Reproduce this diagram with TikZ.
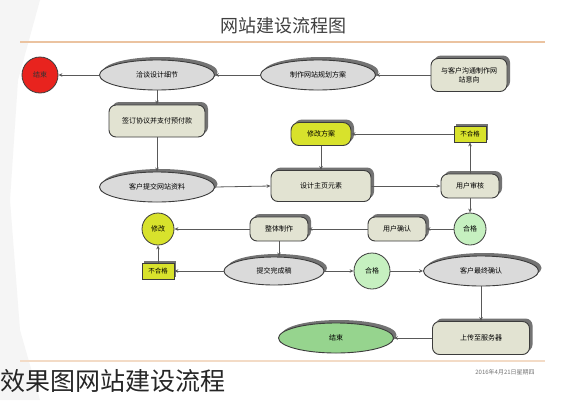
\documentclass[tikz,border=0pt]{standalone}
\usepackage{fontspec}
\setmainfont{Noto Sans CJK SC}
\usetikzlibrary{shapes.geometric,shadows,arrows.meta}
\definecolor{ellfill}{HTML}{DADADA}
\definecolor{boxfill}{HTML}{E2E3D2}
\definecolor{yel}{HTML}{D8E22C}
\definecolor{grn}{HTML}{C6F0C0}
\definecolor{grnell}{HTML}{96D48E}
\definecolor{redc}{HTML}{E8231E}
\definecolor{rule}{HTML}{EBC3A0}
\definecolor{edge}{HTML}{3C3C3C}
\tikzset{
  shd/.style={drop shadow={shadow xshift=3pt,shadow yshift=3pt,fill=black!55,opacity=1}},
  ell/.style={ellipse,draw=edge,line width=0.9pt,fill=ellfill,minimum width=#1,minimum height=30pt,inner sep=0pt,shd,font=\fontsize{7}{8}\selectfont},
  ell/.default=115pt,
  rbox/.style={rounded corners=7pt,draw=edge,line width=0.9pt,fill=boxfill,inner sep=0pt,shd,font=\fontsize{7}{9}\selectfont,align=center},
  ybox/.style={draw=edge,line width=0.7pt,fill=yel,minimum width=32pt,minimum height=16pt,inner sep=0pt,drop shadow={shadow xshift=2pt,shadow yshift=2pt,fill=black!55,opacity=1},font=\fontsize{6.5}{8}\selectfont},
  circ/.style={circle,draw=edge,line width=0.8pt,minimum size=#1,inner sep=0pt,font=\fontsize{7}{8}\selectfont},
  conn/.style={draw=black!65,line width=0.8pt,-{Stealth[length=4pt,width=3.5pt]}}
}
\begin{document}
\begin{tikzpicture}[x=1pt,y=-1pt]
\useasboundingbox (0,0) rectangle (565,400);
\fill[white] (0,0) rectangle (565,400);
\fill[black!4] (0,0) -- (40,0) -- (18,80) -- (10,200) -- (20,330) -- (40,400) -- (0,400) -- cycle;
\node[font=\fontsize{18}{20}\selectfont,text=black!75] (title) at (283,26) {网站建设流程图};
\draw[rule,line width=2pt] (20,42) -- (545,42);
\draw[rule!60,line width=1.2pt] (20,361) -- (545,361);

% row 1
\node[circ=36pt,fill=redc,text=black!80] (end) at (40,75) {结束};
\node[ell] (detail) at (157,75) {洽谈设计细节};
\node[ell] (plan) at (318,75) {制作网站规划方案};
\node[rbox,minimum width=76pt,minimum height=33pt] (comm) at (469,75) {与客户沟通制作网\\站意向};

\node[rbox,minimum width=96pt,minimum height=32pt] (sign) at (157,121) {签订协议并支付预付款};
\node[rbox,fill=yel,minimum width=60pt,minimum height=23pt,rounded corners=8pt] (modplan) at (321,134) {修改方案};
\node[ybox] (bad1) at (470,134) {不合格};

\node[ell] (submit) at (157,187) {客户提交网站资料};
\node[rbox,minimum width=100pt,minimum height=31pt] (design) at (321,186) {设计主页元素};
\node[rbox,minimum width=58pt,minimum height=24pt] (review) at (470,186) {用户审核};

\node[circ=32pt,fill=yel] (mod) at (158,229) {修改};
\node[rbox,minimum width=58pt,minimum height=24pt] (make) at (279,229) {整体制作};
\node[rbox,minimum width=58pt,minimum height=24pt] (confirm) at (397,229) {用户确认};
\node[circ=32pt,fill=grn] (ok1) at (470,229) {合格};

\node[ybox] (bad2) at (158,271) {不合格};
\node[ell=100pt,minimum height=28pt] (final) at (274,271) {提交完成稿};
\node[circ=36pt,fill=grn] (ok2) at (372,271) {合格};
\node[ell] (cfinal) at (481,271) {客户最终确认};

\node[ell,fill=grnell] (done) at (336,338) {结束};
\node[rbox,minimum width=97pt,minimum height=33pt] (upload) at (481,338) {上传至服务器};

\node[font=\fontsize{6}{7}\selectfont,text=black!55] (date) at (505,372) {2016年4月21日星期四};
\node[font=\fontsize{25}{27}\selectfont,text=black!85,anchor=west,inner sep=0pt] (cap) at (0,381) {效果图网站建设流程};

% connectors
\draw[conn] (comm.west) -- (plan.east);
\draw[conn] (plan.west) -- (detail.east);
\draw[conn] (detail.west) -- (end.east);
\draw[conn] (detail.south) -- (sign.north);
\draw[conn] (sign.south) -- (submit.north);
\draw[conn] (submit.east) -- (design.west);
\draw[conn] (design.east) -- (review.west);
\draw[conn] (review.north) -- (bad1.south);
\draw[conn] (bad1.west) -- (modplan.east);
\draw[conn] (modplan.south) -- (design.north);
\draw[conn] (review.south) -- (ok1.north);
\draw[conn] (ok1.west) -- (confirm.east);
\draw[conn] (confirm.west) -- (make.east);
\draw[conn] (make.west) -- (mod.east);
\draw[conn] (make.south) -- (make.south |- final.north);
\draw[conn] (final.west) -- (bad2.east);
\draw[conn] (bad2.north) -- (mod.south);
\draw[conn] (final.east) -- (ok2.west);
\draw[conn] (ok2.east) -- (cfinal.west);
\draw[conn] (cfinal.south) -- (upload.north);
\draw[conn] (upload.west) -- (done.east);
\end{tikzpicture}
\end{document}
